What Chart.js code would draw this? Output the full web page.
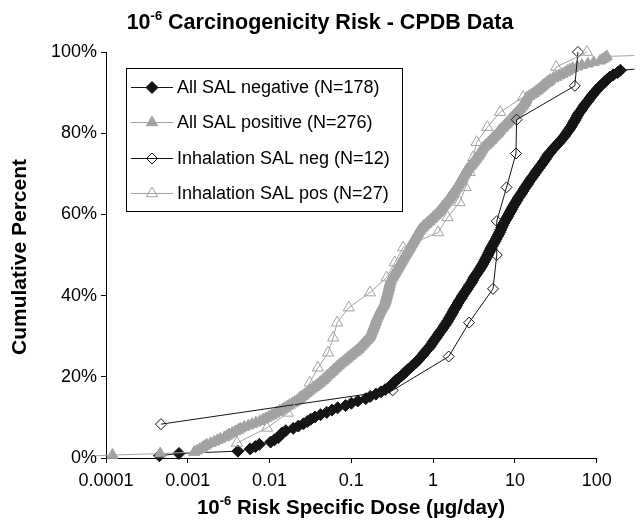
<!DOCTYPE html>
<html>
<head>
<meta charset="utf-8">
<script src="https://cdn.jsdelivr.net/npm/chart.js@4/dist/chart.umd.min.js"></script>
<style>
  html, body { margin: 0; padding: 0; background: #fff; }
  #wrap { width: 642px; height: 524px; }
</style>
</head>
<body>
<div id="wrap"><canvas id="cdfChart" width="642" height="524"></canvas></div>
<script>
// axis ticks
const xTickValues = [0.0001, 0.001, 0.01, 0.1, 1, 10, 100];
const xTickLabels = ['0.0001', '0.001', '0.01', '0.1', '1', '10', '100'];
const yTickValues = [0, 20, 40, 60, 80, 100];

const seriesNames = [
  'All SAL negative (N=178)',
  'All SAL positive (N=276)',
  'Inhalation SAL neg (N=12)',
  'Inhalation SAL pos (N=27)'
];

// sorted 10^-6 risk specific doses (ug/day)
const allSalNegDose = [
  0.00045, 0.00078, 0.0041, 0.0058, 0.0067, 0.0075, 0.0103, 0.0115, 0.0128, 0.0135,
  0.0142, 0.0158, 0.0195, 0.0225, 0.026, 0.029, 0.032, 0.036, 0.042, 0.05,
  0.058, 0.068, 0.085, 0.1, 0.12, 0.15, 0.17, 0.2, 0.23, 0.26,
  0.29, 0.31, 0.33, 0.35, 0.38, 0.41, 0.44, 0.47, 0.5, 0.54,
  0.58, 0.62, 0.66, 0.7, 0.74, 0.78, 0.82, 0.87, 0.92, 0.96,
  1.0, 1.05, 1.1, 1.15, 1.2, 1.26, 1.32, 1.38, 1.44, 1.5,
  1.56, 1.62, 1.68, 1.74, 1.8, 1.88, 1.95, 2.02, 2.1, 2.2,
  2.28, 2.38, 2.48, 2.6, 2.7, 2.82, 2.95, 3.05, 3.15, 3.3,
  3.45, 3.6, 3.75, 3.9, 4.05, 4.2, 4.35, 4.5, 4.65, 4.8,
  4.95, 5.1, 5.3, 5.5, 5.7, 5.9, 6.1, 6.3, 6.5, 6.7,
  6.9, 7.1, 7.35, 7.6, 7.9, 8.2, 8.5, 8.8, 9.1, 9.4,
  9.8, 10.2, 10.6, 11.0, 11.5, 12.0, 12.5, 13.0, 13.6, 14.2,
  14.8, 15.5, 16.2, 17.0, 17.8, 18.6, 19.5, 20.5, 21.5, 22.5,
  23.5, 24.5, 25.5, 27, 28.5, 30, 32, 34, 36, 38,
  40, 42, 44, 46, 48, 50, 52, 54, 56, 58,
  60, 63, 66, 69, 72, 76, 80, 84, 88, 93,
  98, 104, 110, 118, 126, 135, 145, 160, 180, 195,
  450, 700, 1000, 1500, 2500, 4000, 6000, 10000
];

const allSalPosDose = [
  0.00005, 0.00012, 0.00046, 0.0012, 0.0013, 0.0014, 0.0015, 0.0016, 0.0017, 0.0019,
  0.0021, 0.0023, 0.0025, 0.0028, 0.003, 0.0032, 0.0035, 0.0038, 0.0041, 0.0044,
  0.0049, 0.0055, 0.0061, 0.0068, 0.0076, 0.0083, 0.009, 0.0098, 0.0106, 0.0114,
  0.0123, 0.0133, 0.0143, 0.0153, 0.0164, 0.0176, 0.0189, 0.0202, 0.0216, 0.0228,
  0.024, 0.0253, 0.0267, 0.0282, 0.0297, 0.031, 0.033, 0.035, 0.037, 0.039,
  0.041, 0.043, 0.045, 0.047, 0.049, 0.051, 0.054, 0.056, 0.059, 0.061,
  0.064, 0.067, 0.07, 0.074, 0.078, 0.082, 0.086, 0.09, 0.095, 0.1,
  0.105, 0.111, 0.117, 0.122, 0.127, 0.132, 0.137, 0.142, 0.148, 0.154,
  0.16, 0.166, 0.17, 0.172, 0.175, 0.178, 0.181, 0.184, 0.187, 0.19,
  0.193, 0.196, 0.199, 0.202, 0.205, 0.209, 0.213, 0.217, 0.221, 0.226,
  0.231, 0.236, 0.242, 0.248, 0.254, 0.258, 0.261, 0.264, 0.267, 0.27,
  0.273, 0.276, 0.279, 0.282, 0.285, 0.288, 0.291, 0.294, 0.297, 0.3,
  0.303, 0.31, 0.318, 0.326, 0.334, 0.342, 0.35, 0.358, 0.367, 0.376,
  0.385, 0.394, 0.404, 0.414, 0.424, 0.434, 0.445, 0.456, 0.468, 0.48,
  0.492, 0.504, 0.516, 0.529, 0.542, 0.555, 0.568, 0.582, 0.596, 0.61,
  0.625, 0.64, 0.656, 0.672, 0.69, 0.72, 0.75, 0.78, 0.82, 0.86,
  0.9, 0.94, 0.98, 1.02, 1.07, 1.12, 1.16, 1.2, 1.24, 1.28,
  1.32, 1.37, 1.42, 1.47, 1.52, 1.56, 1.6, 1.65, 1.7, 1.75,
  1.8, 1.85, 1.9, 1.95, 2.0, 2.05, 2.1, 2.15, 2.2, 2.25,
  2.3, 2.36, 2.42, 2.48, 2.54, 2.6, 2.7, 2.8, 2.9, 3.0,
  3.1, 3.2, 3.3, 3.4, 3.5, 3.6, 3.7, 3.8, 3.9, 4.0,
  4.1, 4.3, 4.5, 4.7, 4.9, 5.1, 5.3, 5.5, 5.75, 6.0,
  6.2, 6.4, 6.6, 6.9, 7.2, 7.5, 7.8, 8.1, 8.4, 8.7,
  9.0, 9.4, 9.8, 10.2, 10.6, 11.0, 11.4, 11.8, 12.2, 12.6,
  13.0, 13.3, 13.6, 13.8, 14.0, 15, 16, 17, 18, 19,
  20, 21, 22, 23, 24.5, 26, 27, 29.5, 32, 35,
  38, 41, 44, 47, 51, 58, 66, 78, 92, 110,
  118, 126, 133, 500, 900, 1500
];

const inhalNegDose = [0.00047, 0.32, 1.55, 2.75, 5.4, 6.0, 6.0, 7.9, 10.3, 10.5, 54, 59];

const inhalPosDose = [
  0.004, 0.0093, 0.0167, 0.0235, 0.031, 0.039, 0.052, 0.06, 0.067, 0.093,
  0.169, 0.27, 0.34, 0.43, 1.15, 1.5, 2.1, 2.5, 2.8, 3.1,
  3.4, 4.6, 6.6, 12.6, 25, 32, 76
];

// cumulative percent = rank / N
function cumulative(doses) {
  return doses.map((d, i) => ({ x: d, y: (i + 1) / doses.length * 100 }));
}

const FONT = "'Liberation Sans', Arial, Helvetica, sans-serif";
const GREY = '#a3a3a3';
const BLACK = '#151515';
const clipBox = { left: 10, top: 10, right: 0, bottom: 10 };
// the plot runs on past the last labelled decade to the canvas edge
const X_AXIS_END = 100;
const X_SCALE_MAX = 290;

Chart.defaults.font.family = FONT;
Chart.defaults.color = '#000';

// text with a superscript part, e.g. 10^-6
function drawSupText(ctx, parts, cx, baseline, size) {
  let total = 0;
  parts.forEach(p => {
    ctx.font = 'bold ' + (p.sup ? Math.round(size * 0.62) : size) + 'px ' + FONT;
    p.w = ctx.measureText(p.t).width;
    total += p.w;
  });
  let x = cx - total / 2;
  ctx.textAlign = 'left';
  ctx.textBaseline = 'alphabetic';
  parts.forEach(p => {
    ctx.font = 'bold ' + (p.sup ? Math.round(size * 0.62) : size) + 'px ' + FONT;
    ctx.fillText(p.t, x, p.sup ? baseline - size * 0.42 : baseline);
    x += p.w;
  });
}

const labelsPlugin = {
  id: 'labels',
  beforeDatasetsDraw(chart) {
    // x axis line only up to the 100 tick
    const ctx = chart.ctx;
    const area = chart.chartArea;
    const xEnd = chart.scales.x.getPixelForValue(X_AXIS_END);
    ctx.save();
    ctx.strokeStyle = '#000';
    ctx.lineWidth = 1;
    ctx.beginPath();
    ctx.moveTo(area.left, Math.round(area.bottom) + 0.5);
    ctx.lineTo(xEnd + 0.5, Math.round(area.bottom) + 0.5);
    ctx.stroke();
    ctx.restore();
  },
  afterDraw(chart) {
    const ctx = chart.ctx;
    ctx.save();
    ctx.fillStyle = '#000';
    drawSupText(ctx, [{ t: '10' }, { t: '-6', sup: true }, { t: ' Carcinogenicity Risk - CPDB Data' }], 320, 29, 21.5);
    drawSupText(ctx, [{ t: '10' }, { t: '-6', sup: true }, { t: ' Risk Specific Dose (\u00b5g/day)' }], 351, 514, 20.5);
    ctx.translate(26, 257);
    ctx.rotate(-Math.PI / 2);
    ctx.font = 'bold 21px ' + FONT;
    ctx.textAlign = 'center';
    ctx.fillText('Cumulative Percent', 0, 0);
    ctx.restore();
  }
};

// Excel style legend box inside the plot area
const boxLegend = {
  id: 'boxLegend',
  afterDatasetsDraw(chart) {
    const ctx = chart.ctx;
    const rowY = [87, 122, 158, 193];
    ctx.save();
    ctx.fillStyle = '#fff';
    ctx.fillRect(126, 68, 277, 144);
    ctx.strokeStyle = '#000';
    ctx.lineWidth = 1;
    ctx.strokeRect(126.5, 68.5, 276, 143);
    chart.data.datasets.forEach((ds, i) => {
      const y = rowY[i];
      ctx.strokeStyle = ds.borderColor;
      ctx.lineWidth = 1;
      ctx.beginPath();
      ctx.moveTo(131, y + 0.5);
      ctx.lineTo(173, y + 0.5);
      ctx.stroke();
      ctx.fillStyle = ds.pointBackgroundColor;
      ctx.strokeStyle = ds.pointBorderColor;
      Chart.helpers.drawPoint(ctx, {
        pointStyle: ds.pointStyle,
        radius: ds.pointRadius,
        borderWidth: ds.pointBorderWidth,
        rotation: 0
      }, 152, y + 0.5);
      ctx.fillStyle = '#000';
      ctx.font = '18px ' + FONT;
      ctx.textAlign = 'left';
      ctx.textBaseline = 'middle';
      ctx.fillText(ds.label, 177, y + 1);
    });
    ctx.restore();
  }
};

const ctx = document.getElementById('cdfChart').getContext('2d');
new Chart(ctx, {
  type: 'line',
  data: {
    datasets: [
      {
        label: seriesNames[0],
        data: cumulative(allSalNegDose),
        borderColor: BLACK,
        borderWidth: 1,
        pointStyle: 'rectRot',
        pointRadius: 6,
        pointBackgroundColor: BLACK,
        pointBorderColor: BLACK,
        pointBorderWidth: 1,
        order: 4,
        clip: clipBox
      },
      {
        label: seriesNames[1],
        data: cumulative(allSalPosDose),
        borderColor: GREY,
        borderWidth: 1,
        pointStyle: 'triangle',
        pointRadius: 6.5,
        pointBackgroundColor: GREY,
        pointBorderColor: GREY,
        pointBorderWidth: 1,
        order: 3,
        clip: clipBox
      },
      {
        label: seriesNames[2],
        data: cumulative(inhalNegDose),
        borderColor: BLACK,
        borderWidth: 1,
        pointStyle: 'rectRot',
        pointRadius: 5.5,
        pointBackgroundColor: 'rgba(255,255,255,0)',
        pointBorderColor: BLACK,
        pointBorderWidth: 1,
        order: 2,
        clip: clipBox
      },
      {
        label: seriesNames[3],
        data: cumulative(inhalPosDose),
        borderColor: GREY,
        borderWidth: 1,
        pointStyle: 'triangle',
        pointRadius: 6.5,
        pointBackgroundColor: 'rgba(255,255,255,0)',
        pointBorderColor: GREY,
        pointBorderWidth: 1,
        order: 1,
        clip: clipBox
      }
    ]
  },
  options: {
    responsive: false,
    animation: false,
    events: [],
    layout: { padding: { left: 0, right: 0, top: 52, bottom: 0 } },
    plugins: {
      legend: { display: false },
      title: { display: false },
      tooltip: { enabled: false }
    },
    elements: { line: { tension: 0 } },
    scales: {
      x: {
        type: 'logarithmic',
        min: 0.0001,
        max: X_SCALE_MAX,
        afterBuildTicks: scale => { scale.ticks = xTickValues.map(v => ({ value: v })); },
        afterFit: scale => { scale.height = 66; },
        ticks: {
          autoSkip: false,
          maxRotation: 0,
          padding: 7,
          font: { size: 18 },
          color: '#000',
          callback: (v, i) => xTickLabels[i]
        },
        grid: { drawOnChartArea: false, drawTicks: true, tickLength: 5, color: '#000' },
        border: { display: false }
      },
      y: {
        type: 'linear',
        min: 0,
        max: 100,
        afterBuildTicks: scale => { scale.ticks = yTickValues.map(v => ({ value: v })); },
        afterFit: scale => { scale.width = 106; },
        ticks: {
          padding: 4,
          font: { size: 18 },
          color: '#000',
          callback: v => v + '%'
        },
        grid: { drawOnChartArea: false, drawTicks: true, tickLength: 5, color: '#000' },
        border: { color: '#000', width: 1 }
      }
    }
  },
  plugins: [labelsPlugin, boxLegend]
});
</script>
</body>
</html>
